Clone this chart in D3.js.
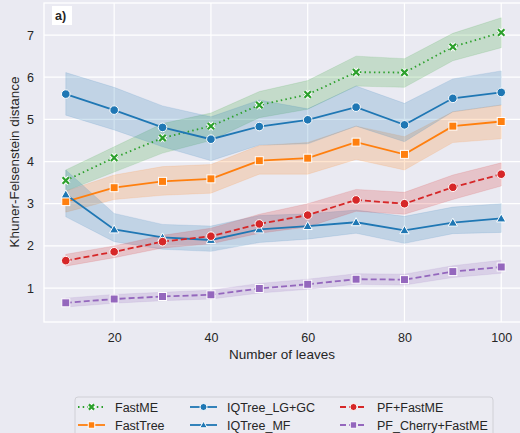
<!DOCTYPE html>
<html>
<head>
<meta charset="utf-8">
<script src="https://cdn.jsdelivr.net/npm/d3@7"></script>
<style>
  body { margin: 0; background: #eaeaf2; }
  text { font-family: "Liberation Sans", Arial, sans-serif; fill: #262626; }
</style>
</head>
<body>
<div class="canva"></div>
<script>
// data
const leaves = [10, 20, 30, 40, 50, 60, 70, 80, 90, 100];

const fastME      = [3.55, 4.09, 4.56, 4.84, 5.34, 5.59, 6.12, 6.11, 6.72, 7.06];
const fastMELo    = [3.30, 3.75, 4.20, 4.50, 5.04, 5.24, 5.79, 5.76, 6.39, 6.70];
const fastMEHi    = [3.80, 4.35, 4.90, 5.15, 5.66, 5.92, 6.50, 6.44, 7.04, 7.41];

const fastTree    = [3.05, 3.38, 3.53, 3.59, 4.02, 4.08, 4.46, 4.17, 4.84, 4.95];
const fastTreeLo  = [2.80, 3.10, 3.20, 3.25, 3.70, 3.70, 4.05, 3.80, 4.45, 4.54];
const fastTreeHi  = [3.30, 3.68, 3.88, 3.93, 4.38, 4.45, 4.84, 4.59, 5.18, 5.34];

const iqLG        = [5.60, 5.22, 4.81, 4.53, 4.83, 4.99, 5.29, 4.87, 5.50, 5.64];
const iqLGLo      = [5.10, 4.75, 4.35, 4.02, 4.39, 4.42, 4.84, 4.47, 5.18, 5.34];
const iqLGHi      = [6.11, 5.76, 5.32, 5.06, 5.46, 5.25, 5.79, 5.38, 5.96, 6.15];

const iqMF        = [3.22, 2.39, 2.20, 2.14, 2.39, 2.47, 2.56, 2.37, 2.55, 2.65];
const iqMFLo      = [2.69, 2.10, 1.92, 1.87, 2.08, 2.16, 2.30, 2.06, 2.29, 2.32];
const iqMFHi      = [3.80, 2.77, 2.51, 2.47, 2.72, 2.76, 2.85, 2.70, 2.92, 3.00];

const pfFastME    = [1.65, 1.86, 2.10, 2.23, 2.52, 2.73, 3.09, 3.00, 3.39, 3.70];
const pfFastMELo  = [1.52, 1.72, 1.95, 2.05, 2.30, 2.45, 2.82, 2.75, 3.10, 3.42];
const pfFastMEHi  = [1.80, 2.00, 2.25, 2.42, 2.75, 3.00, 3.34, 3.27, 3.68, 3.97];

const pfCherry    = [0.65, 0.74, 0.80, 0.84, 0.99, 1.09, 1.21, 1.20, 1.39, 1.50];
const pfCherryLo  = [0.55, 0.64, 0.70, 0.74, 0.88, 0.97, 1.09, 1.07, 1.25, 1.35];
const pfCherryHi  = [0.76, 0.85, 0.90, 0.95, 1.11, 1.21, 1.34, 1.33, 1.53, 1.66];

const xTicks = [20, 40, 60, 80, 100];
const yTicks = [1, 2, 3, 4, 5, 6, 7];

const series = [
  {name: "FastME", vals: fastME, lo: fastMELo, hi: fastMEHi, color: "#2ca02c", dash: "1.5,3.2", marker: "x"},
  {name: "FastTree", vals: fastTree, lo: fastTreeLo, hi: fastTreeHi, color: "#ff7f0e", dash: null, marker: "square"},
  {name: "IQTree_LG+GC", vals: iqLG, lo: iqLGLo, hi: iqLGHi, color: "#1f77b4", dash: null, marker: "circle"},
  {name: "IQTree_MF", vals: iqMF, lo: iqMFLo, hi: iqMFHi, color: "#1f77b4", dash: null, marker: "triangle"},
  {name: "PF+FastME", vals: pfFastME, lo: pfFastMELo, hi: pfFastMEHi, color: "#d62728", dash: "6,3", marker: "circle"},
  {name: "PF_Cherry+FastME", vals: pfCherry, lo: pfCherryLo, hi: pfCherryHi, color: "#9467bd", dash: "6,3", marker: "square"}
];

const W = 520, H = 433;
const svg = d3.select(".canva").append("svg")
  .attr("width", W).attr("height", H);

svg.append("rect").attr("width", W).attr("height", H).attr("fill", "#eaeaf2");

const plotL = 44, plotR = 523, plotT = 3, plotB = 322;

const x = d3.scaleLinear().domain([5.5, 104.5]).range([plotL, plotR]);
const y = d3.scaleLinear().domain([0.195, 7.76]).range([plotB, plotT]);

// grid
const grid = svg.append("g");
grid.selectAll(".gx").data(xTicks).enter().append("line")
  .attr("x1", d => x(d)).attr("x2", d => x(d))
  .attr("y1", plotT).attr("y2", plotB)
  .attr("stroke", "#fff").attr("stroke-width", 1.2);
grid.selectAll(".gy").data(yTicks).enter().append("line")
  .attr("x1", plotL).attr("x2", plotR)
  .attr("y1", d => y(d)).attr("y2", d => y(d))
  .attr("stroke", "#fff").attr("stroke-width", 1.2);
// spines (white in darkgrid)
svg.append("rect")
  .attr("x", plotL).attr("y", plotT)
  .attr("width", plotR - plotL).attr("height", plotB - plotT)
  .attr("fill", "none").attr("stroke", "#fff").attr("stroke-width", 1.3);

// axes via d3 axis, with lines hidden
const xAxis = svg.append("g")
  .attr("transform", `translate(0, ${plotB})`)
  .call(d3.axisBottom(x).tickValues(xTicks).tickSize(0).tickPadding(11));
const yAxis = svg.append("g")
  .attr("transform", `translate(${plotL}, 0)`)
  .call(d3.axisLeft(y).tickValues(yTicks).tickSize(0).tickPadding(10));
[xAxis, yAxis].forEach(a => {
  a.select(".domain").remove();
  a.selectAll("text").style("font-size", "12.5px").attr("fill", "#262626")
    .style("font-family", '"Liberation Sans", Arial, sans-serif');
});

// axis titles
svg.append("text")
  .attr("x", 282).attr("y", 359)
  .attr("text-anchor", "middle")
  .style("font-size", "13.5px")
  .text("Number of leaves");
svg.append("text")
  .attr("transform", "translate(19, 162) rotate(-90)")
  .attr("text-anchor", "middle")
  .style("font-size", "13.5px")
  .text("Khuner-Felsenstein distance");

// bands
const area = (s) => d3.area()
  .x((d, i) => x(leaves[i]))
  .y0((d, i) => y(s.lo[i]))
  .y1((d, i) => y(s.hi[i]));

series.forEach(s => {
  svg.append("path")
    .datum(s.vals)
    .attr("d", area(s))
    .attr("fill", s.color)
    .attr("fill-opacity", 0.2)
    .attr("stroke", s.color)
    .attr("stroke-opacity", 0.12)
    .attr("stroke-width", 1);
});

// markers
function drawMarker(g, type, cx, cy, color, size) {
  const r = size / 2;
  if (type === "circle") {
    g.append("circle").attr("cx", cx).attr("cy", cy).attr("r", r + 0.3)
      .attr("fill", color).attr("stroke", "#fff").attr("stroke-width", 1);
  } else if (type === "square") {
    g.append("rect").attr("x", cx - r).attr("y", cy - r)
      .attr("width", size).attr("height", size)
      .attr("fill", color).attr("stroke", "#fff").attr("stroke-width", 1);
  } else if (type === "triangle") {
    const h = r * 1.15;
    g.append("path")
      .attr("d", `M${cx},${cy - h}L${cx + h},${cy + h * 0.75}L${cx - h},${cy + h * 0.75}Z`)
      .attr("fill", color).attr("stroke", "#fff").attr("stroke-width", 1);
  } else if (type === "x") {
    const p = `M${cx - r * 0.8},${cy - r * 0.8}L${cx + r * 0.8},${cy + r * 0.8}M${cx + r * 0.8},${cy - r * 0.8}L${cx - r * 0.8},${cy + r * 0.8}`;
    g.append("path").attr("d", p).attr("stroke", "#fff").attr("stroke-width", 4.2).attr("fill", "none");
    g.append("path").attr("d", p).attr("stroke", color).attr("stroke-width", 2.2).attr("fill", "none");
  }
}

const line = d3.line()
  .x((d, i) => x(leaves[i]))
  .y(d => y(d));

series.forEach(s => {
  const g = svg.append("g");
  g.append("path")
    .datum(s.vals)
    .attr("d", line)
    .attr("fill", "none")
    .attr("stroke", s.color)
    .attr("stroke-width", 1.8)
    .attr("stroke-dasharray", s.dash);
  s.vals.forEach((v, i) => drawMarker(g, s.marker, x(leaves[i]), y(v), s.color, 8));
});

// panel label
svg.append("rect")
  .attr("x", 52).attr("y", 6).attr("width", 20).attr("height", 19)
  .attr("fill", "#fff");
svg.append("text")
  .attr("x", 55).attr("y", 20)
  .style("font-size", "12.5px").style("font-weight", "bold")
  .text("a)");

// legend
const legend = svg.append("g");
legend.append("rect")
  .attr("x", 75).attr("y", 397).attr("width", 418).attr("height", 50)
  .attr("rx", 3)
  .attr("fill", "#ebebf2").attr("stroke", "#d0d0d6").attr("stroke-width", 1);

const colX = [78, 190, 340];
const rowY = [407, 425];
series.forEach((s, i) => {
  const cx = colX[Math.floor(i / 2)], cy = rowY[i % 2];
  const g = legend.append("g");
  g.append("line")
    .attr("x1", cx).attr("x2", cx + 27).attr("y1", cy).attr("y2", cy)
    .attr("stroke", s.color).attr("stroke-width", 1.8)
    .attr("stroke-dasharray", s.dash);
  drawMarker(g, s.marker, cx + 13.5, cy, s.color, 6.5);
  g.append("text")
    .attr("x", cx + 37).attr("y", cy + 4.5)
    .style("font-size", "12.5px")
    .text(s.name);
});
</script>
</body>
</html>
